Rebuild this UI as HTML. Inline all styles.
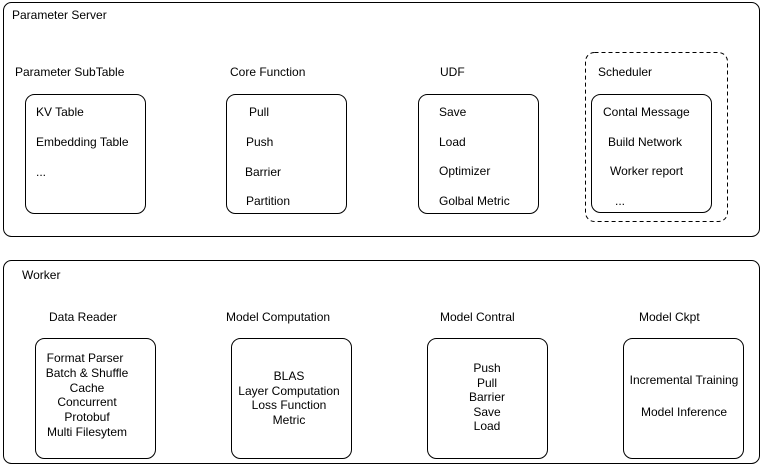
<!DOCTYPE html>
<html><head><meta charset="utf-8"><style>body{margin:0;background:#fff}svg{display:block}text{font-family:"Liberation Sans",Arial,sans-serif;font-size:12px;fill:#000}</style></head><body>
<svg width="763" height="466" viewBox="0 0 763 466" xmlns="http://www.w3.org/2000/svg">
<g fill="none" stroke="#000" stroke-width="1">
<rect x="3.5" y="2.5" width="756" height="234" rx="8"/>
<rect x="3.5" y="260.5" width="756" height="203" rx="8"/>
<rect x="25.5" y="94.5" width="120" height="119" rx="9"/>
<rect x="226.5" y="94.5" width="120" height="119" rx="9"/>
<rect x="418.5" y="94.5" width="120" height="119" rx="9"/>
<rect x="591.5" y="94.5" width="120" height="118" rx="9"/>
<rect x="585.5" y="52.5" width="142" height="169" rx="9" stroke-dasharray="4,3"/>
<rect x="35.5" y="338.5" width="120" height="120" rx="9"/>
<rect x="231.5" y="338.5" width="120" height="120" rx="9"/>
<rect x="427.5" y="338.5" width="120" height="120" rx="9"/>
<rect x="623.5" y="338.5" width="120" height="120" rx="9"/>
</g>
<text x="12" y="19">Parameter Server</text>
<text x="15" y="76">Parameter SubTable</text>
<text x="230" y="76">Core Function</text>
<text x="440" y="76">UDF</text>
<text x="598" y="76">Scheduler</text>
<text x="36" y="116">KV Table</text>
<text x="36" y="146">Embedding Table</text>
<text x="36" y="176">...</text>
<text x="249" y="116">Pull</text>
<text x="246" y="146">Push</text>
<text x="245" y="176">Barrier</text>
<text x="246" y="205">Partition</text>
<text x="439" y="116">Save</text>
<text x="439" y="146">Load</text>
<text x="439" y="175">Optimizer</text>
<text x="439" y="205">Golbal Metric</text>
<text x="603" y="116">Contal Message</text>
<text x="608" y="146">Build Network</text>
<text x="610" y="175">Worker report</text>
<text x="615" y="205">...</text>
<text x="22" y="279">Worker</text>
<text x="49" y="321">Data Reader</text>
<text x="226" y="321">Model Computation</text>
<text x="440" y="321">Model Contral</text>
<text x="639" y="321">Model Ckpt</text>
<g text-anchor="middle">
<text x="85" y="362">Format Parser</text>
<text x="87" y="377">Batch &amp; Shuffle</text>
<text x="87" y="392">Cache</text>
<text x="87" y="406">Concurrent</text>
<text x="87" y="421">Protobuf</text>
<text x="87" y="436">Multi Filesytem</text>
<text x="289" y="380">BLAS</text>
<text x="289" y="395">Layer Computation</text>
<text x="289" y="409">Loss Function</text>
<text x="289" y="424">Metric</text>
<text x="487" y="372">Push</text>
<text x="487" y="387">Pull</text>
<text x="487" y="401">Barrier</text>
<text x="487" y="416">Save</text>
<text x="487" y="430">Load</text>
<text x="684" y="384">Incremental Training</text>
<text x="684" y="416">Model Inference</text>
</g>
</svg>
</body></html>
